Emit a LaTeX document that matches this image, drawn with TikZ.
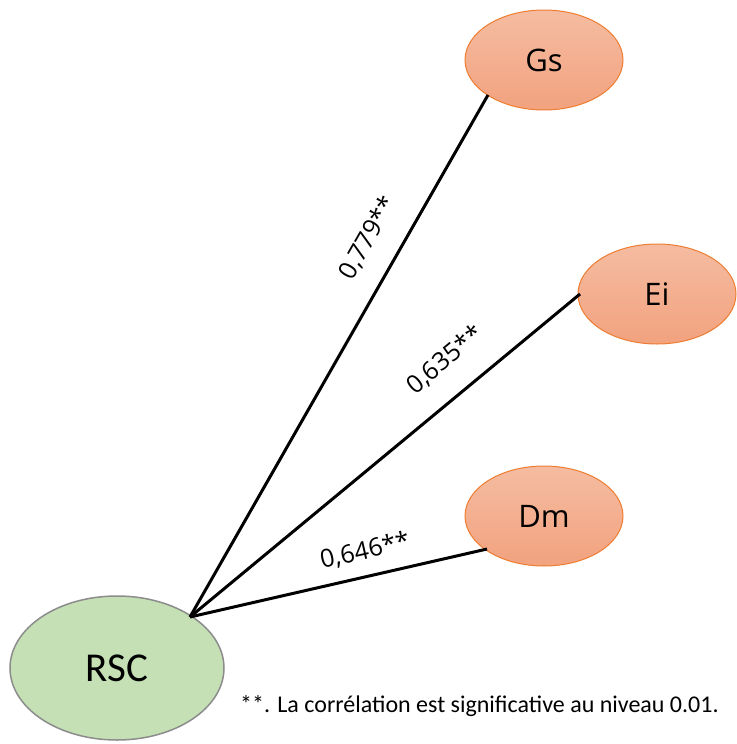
\documentclass[tikz,border=0pt]{standalone}
\usepackage{fontspec}
\setmainfont{Carlito}
\newfontfamily\lblfont{Open Sans}
\usetikzlibrary{shapes.geometric}
\definecolor{orfill1}{HTML}{F5BCA1}
\definecolor{orfill2}{HTML}{F2A27F}
\definecolor{orline}{HTML}{ED7D31}
\definecolor{grfill}{HTML}{C5E0B4}
\definecolor{grline}{HTML}{8C8C8C}
\tikzset{
  orell/.style={ellipse, draw=orline, line width=1pt, top color=orfill1, bottom color=orfill2,
    minimum width=158pt, minimum height=100pt, inner sep=0pt, font=\lblfont\fontsize{31}{34}\selectfont},
  grell/.style={ellipse, draw=grline, line width=1.5pt, fill=grfill,
    minimum width=214pt, minimum height=144pt, inner sep=0pt, font=\fontsize{41}{44}\selectfont},
  conn/.style={line width=3pt, black},
  lbl/.style={font=\lblfont\fontsize{25}{28}\selectfont, inner sep=2pt}
}
\begin{document}
\begin{tikzpicture}[x=1pt,y=-1pt]
\useasboundingbox (0,0) rectangle (736,744);
\node[orell] (gs) at (544,60) {Gs};
\node[orell] (ei) at (657,294) {Ei};
\node[orell] (dm) at (544,516) {Dm};
\node[grell] (rsc) at (117,668) {RSC};
\coordinate (hub) at (190,617);
\coordinate (gsE) at (488,95);
\coordinate (eiE) at (580,294);
\coordinate (dmE) at (487,549);
\draw[conn] (hub) -- (gsE);
\draw[conn] (hub) -- (eiE);
\draw[conn] (hub) -- (dmE);
\node[lbl, rotate=60.3] (l1) at (368,238) {0,779**};
\node[lbl, rotate=39.6] (l2) at (445,360) {0,635**};
\node[lbl, rotate=12.9] (l3) at (365,551) {0,646**};
\node[font=\fontsize{24}{28}\selectfont, anchor=west, inner sep=0pt] (note) at (240,706) {**. La corrélation est significative au niveau 0.01.};
\end{tikzpicture}
\end{document}
